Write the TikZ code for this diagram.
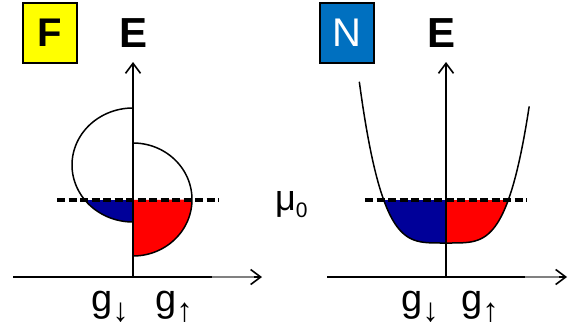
\documentclass[tikz,border=0pt]{standalone}
\usepackage{fontspec}
\setmainfont{Liberation Sans}
\usetikzlibrary{arrows.meta}
\definecolor{dnblue}{RGB}{0,0,153}
\definecolor{upred}{RGB}{255,0,0}
\definecolor{fyellow}{RGB}{255,255,0}
\definecolor{nblue}{RGB}{0,112,192}
\definecolor{axgray}{RGB}{128,128,128}
\newcommand{\spinsub}[1]{\raisebox{-10pt}{\fontsize{33}{33}\selectfont #1}}
\begin{document}
\begin{tikzpicture}[x=1pt,y=-1pt,
  axis/.style={line width=1.9pt, -{Straight Barb[length=10pt,width=15pt,line width=1.6pt]}},
  graytail/.style={line width=1.9pt, axgray},
  curve/.style={line width=1.5pt},
  fermi/.style={line width=3.2pt, dash pattern=on 8pt off 3.5pt},
  lbl/.style={inner sep=0pt, anchor=base west, font=\fontsize{38}{38}\selectfont},
  head/.style={inner sep=0pt, anchor=base, font=\fontsize{42}{42}\selectfont\bfseries},
  tag/.style={draw=black, line width=2pt, minimum width=54pt, minimum height=60pt, inner sep=0pt, font=\fontsize{40}{40}\selectfont}]
\useasboundingbox (0,0) rectangle (569,329);

% ---------- left panel (F) ----------
\node[tag, fill=fyellow, font=\fontsize{40}{40}\selectfont\bfseries] (tagF) at (50,33) {F};
\node[head] (EL) at (133.5,48) {E};

\fill[dnblue] plot[domain=127.9:180, samples=30] ({133-61*sin(\x)},{165-57*cos(\x)}) -- (133,200) -- cycle;
\fill[upred] (133,200) -- plot[domain=90:180, samples=40] ({133+59*sin(\x)},{199.5-56.5*cos(\x)}) -- cycle;
\draw[curve] plot[domain=0:180, samples=80] ({133-61*sin(\x)},{165-57*cos(\x)});
\draw[curve] plot[domain=0:180, samples=80] ({133+59*sin(\x)},{199.5-56.5*cos(\x)});

\coordinate (FdashL) at (57,200);
\coordinate (FdashR) at (219,200);
\draw[fermi] (FdashL) -- (FdashR);

\coordinate (Lo) at (133,277);
\coordinate (Ltop) at (133,62);
\coordinate (Lleft) at (13,277);
\coordinate (Lright) at (262,277);
\coordinate (LgA) at (212,277);
\coordinate (LgB) at (254,277);
\draw[axis, line width=2.3pt] (Lo) -- (Ltop);
\draw[axis] (Lleft) -- (Lright);
\draw[graytail] (LgA) -- (LgB);

\node[lbl] (gdL) at (91,311) {g\spinsub{↓}};
\node[lbl] (guL) at (155,311) {g\spinsub{↑}};

% ---------- chemical potential ----------
\node[inner sep=0pt, anchor=base west, font=\fontsize{36}{36}\selectfont] (mu) at (275,210) {μ\raisebox{-7pt}{\fontsize{21}{21}\selectfont 0}};

% ---------- right panel (N) ----------
\node[tag, fill=nblue, text=white] (tagN) at (347,33) {N};
\node[head] (ER) at (441.5,48) {E};

\fill[dnblue] plot[domain=-0.7329:0, samples=40] ({446+85*\x},{243-149*(\x)*(\x)*(\x)*(\x)}) -- (446,200) -- cycle;
\fill[upred] (446,200) -- plot[domain=0:0.7329, samples=40] ({446+85*\x},{243-149*(\x)*(\x)*(\x)*(\x)}) -- cycle;
\draw[curve] plot[domain=-1.02:0.98, samples=100] ({446+85*\x},{243-149*(\x)*(\x)*(\x)*(\x)});

\coordinate (NdashL) at (365,200);
\coordinate (NdashR) at (527,200);
\draw[fermi] (NdashL) -- (NdashR);

\coordinate (Ro) at (446,277);
\coordinate (Rtop) at (446,62);
\coordinate (Rleft) at (327,277);
\coordinate (Rright) at (567,277);
\coordinate (RgA) at (525,277);
\coordinate (RgB) at (559,277);
\draw[axis] (Ro) -- (Rtop);
\draw[axis] (Rleft) -- (Rright);
\draw[graytail] (RgA) -- (RgB);

\node[lbl] (gdR) at (401,311) {g\spinsub{↓}};
\node[lbl] (guR) at (461,311) {g\spinsub{↑}};
\end{tikzpicture}
\end{document}
